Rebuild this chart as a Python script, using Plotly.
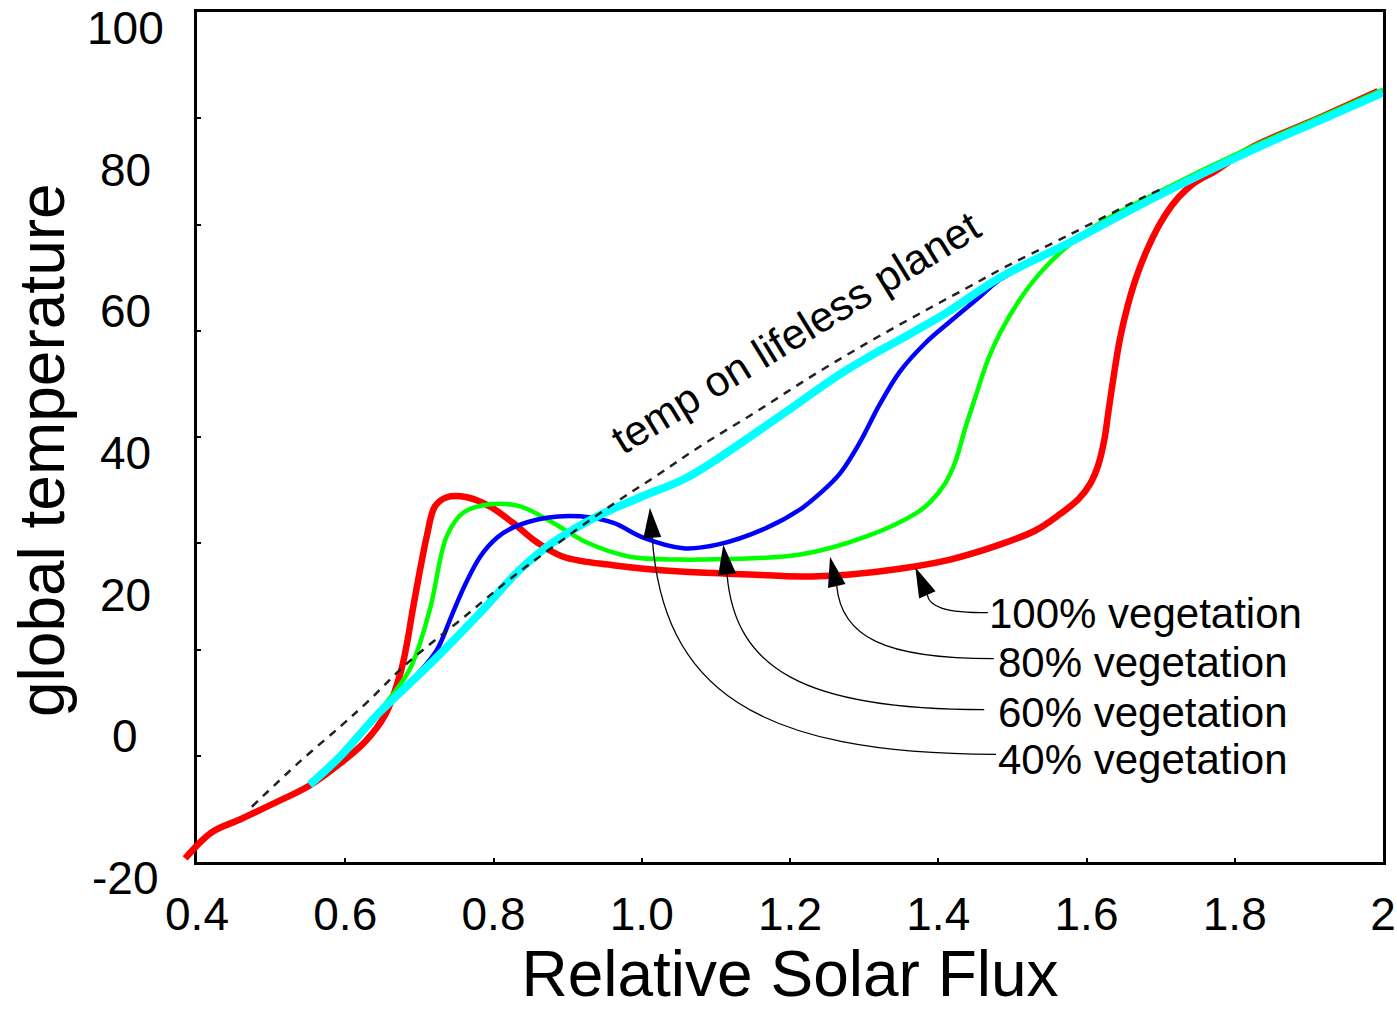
import math
import plotly.graph_objects as go

# ---------------- data ----------------
flux_100 = [0.384, 0.420, 0.458, 0.498, 0.552, 0.593, 0.627, 0.654, 0.674, 0.683, 0.691, 0.701, 0.710,
            0.721, 0.737, 0.764, 0.795, 0.826, 0.859, 0.894, 0.961, 1.052, 1.146, 1.214, 1.281, 1.348,
            1.416, 1.483, 1.531, 1.564, 1.589, 1.605, 1.616, 1.624, 1.630, 1.637, 1.645, 1.655, 1.667,
            1.682, 1.699, 1.719, 1.746, 1.773, 1.821, 1.915, 1.993]
temp_100 = [-19.5, -15.8, -14.0, -12.0, -9.2, -6.1, -3.0, 0.8, 6.5, 10.7, 15.6, 21.3, 26.0,
            30.2, 31.5, 31.5, 30.2, 27.9, 25.1, 23.1, 21.9, 21.0, 20.6, 20.3, 20.6, 21.4,
            22.7, 24.8, 26.8, 29.1, 31.2, 33.4, 36.1, 39.6, 43.9, 48.8, 53.8, 58.3, 62.5,
            66.5, 70.1, 73.2, 75.9, 77.5, 80.8, 85.1, 88.8]

flux_80 = [0.552, 0.593, 0.647, 0.687, 0.714, 0.737, 0.759, 0.795, 0.836, 0.880, 0.926, 0.984, 1.052,
           1.079, 1.214, 1.304, 1.371, 1.389, 1.409, 1.423, 1.436, 1.450, 1.467, 1.483, 1.510, 1.537,
           1.574, 1.618, 1.686, 1.821, 1.915, 2.000]
temp_80 = [-9.1, -5.2, 1.4, 7.2, 15.6, 26.0, 29.3, 30.5, 30.2, 27.9, 25.1, 23.1, 22.7,
           22.7, 23.4, 26.0, 29.3, 30.8, 33.4, 36.5, 41.1, 45.6, 50.9, 54.6, 59.4, 63.1,
           66.9, 70.2, 74.0, 80.85, 85.15, 89.05]

flux_60 = [0.552, 0.593, 0.647, 0.701, 0.724, 0.744, 0.762, 0.782, 0.805, 0.826, 0.872, 0.917, 0.961,
           1.002, 1.056, 1.102, 1.169, 1.214, 1.240, 1.267, 1.294, 1.321, 1.348, 1.382, 1.416, 1.456,
           1.483, 1.578, 1.686, 1.821, 1.915, 2.000]
temp_60 = [-9.1, -5.2, 1.1, 6.9, 10.0, 14.9, 19.2, 23.1, 25.8, 27.2, 28.6, 28.8, 27.9,
           25.8, 24.3, 24.8, 27.2, 29.8, 32.0, 34.8, 39.2, 44.6, 49.2, 53.2, 56.3, 59.8,
           62.2, 67.5, 73.5, 80.4, 84.7, 88.6]

flux_40 = [0.552, 0.593, 0.647, 0.710, 0.782, 0.836, 0.880, 0.940, 0.998, 1.056, 1.096, 1.187, 1.277,
           1.366, 1.412, 1.483, 1.578, 1.686, 1.821, 1.915, 2.000]
temp_40 = [-9.1, -5.1, 1.2, 7.5, 15.2, 21.3, 25.1, 28.8, 31.5, 34.0, 36.5, 43.0, 49.5,
           54.8, 57.6, 62.5, 67.5, 73.5, 80.4, 84.7, 88.6]

flux_lifeless = [0.474, 0.539, 0.593, 0.629, 0.683, 0.764, 0.818, 0.879, 0.961, 1.021, 1.079, 1.155,
                 1.231, 1.308, 1.385, 1.452, 1.483, 1.574, 1.676, 1.699]
temp_lifeless = [-12.2, -5.8, -0.9, 2.5, 8.0, 14.9, 19.6, 24.4, 30.5, 34.6, 38.7, 43.6,
                 48.7, 53.5, 58.0, 61.8, 63.6, 68.4, 73.8, 74.9]

# tick labels
x_tick_vals = [0.4, 0.6, 0.8, 1.0, 1.2, 1.4, 1.6, 1.8, 2.0]
x_tick_text = ["0.4", "0.6", "0.8", "1.0", "1.2", "1.4", "1.6", "1.8", "2"]
y_tick_vals = [-20, 0, 20, 40, 60, 80, 100]
y_tick_text = ["-20", "0", "20", "40", "60", "80", "100"]
y_minor_ticks = [-5, 10, 25, 40, 55, 70, 85]

# arrow annotations: label, label anchor, arrow tip, arrow tail (data units)
arrow_labels = ["100% vegetation", "80% vegetation", "60% vegetation", "40% vegetation"]
label_x = [1.466, 1.478, 1.478, 1.478]
label_y = [15.1, 8.2, 1.1, -5.5]
tip_x = [1.369, 1.254, 1.110, 1.011]
tip_y = [21.6, 23.1, 24.8, 30.0]
tail_x = [1.385, 1.263, 1.115, 1.014]
tail_y = [17.8, 19.0, 20.7, 26.0]
lead_end_x = [1.467, 1.475, 1.462, 1.478]
lead_end_y = [15.2, 8.7, 1.5, -4.8]

lifeless_label = "temp on lifeless planet"
lifeless_label_x, lifeless_label_y = 1.208, 54.8

# ---------------- layout geometry ----------------
FIG_W, FIG_H = 1397, 1010
M_L, M_R, M_T, M_B = 180, 14, 12, 135
PAD_L, PAD_B = 17, 13
X_RANGE = [0.4, 2.0]
Y_RANGE = [-20, 100]
plot_w = FIG_W - M_L - M_R
plot_h = FIG_H - M_T - M_B
sx = (plot_w - PAD_L) / (X_RANGE[1] - X_RANGE[0])
sy = (plot_h - PAD_B) / (Y_RANGE[1] - Y_RANGE[0])
x2_range = [X_RANGE[0] - PAD_L / sx, X_RANGE[1]]
y2_range = [Y_RANGE[0] - PAD_B / sy, Y_RANGE[1]]

FONT = "Liberation Sans, Arial, Helvetica, sans-serif"

fig = go.Figure()
# dummy trace for the framed axes
fig.add_trace(go.Scatter(x=[], y=[], xaxis="x", yaxis="y", showlegend=False, hoverinfo="skip"))

series = [
    ("100% vegetation", flux_100, temp_100, "#ff0000", 6.5),
    ("80% vegetation", flux_80, temp_80, "#00ff00", 4.5),
    ("60% vegetation", flux_60, temp_60, "#0000ff", 4.5),
    ("40% vegetation", flux_40, temp_40, "#00ffff", 8),
]
for name, xs, ys, col, w in series:
    fig.add_trace(go.Scatter(x=xs, y=ys, mode="lines", name=name, xaxis="x2", yaxis="y2",
                             line=dict(color=col, width=w, shape="spline", smoothing=1.0),
                             showlegend=False))
fig.add_trace(go.Scatter(x=flux_lifeless, y=temp_lifeless, mode="lines", name="lifeless planet",
                         xaxis="x2", yaxis="y2",
                         line=dict(color="#222222", width=2.5, dash="8px,7px", shape="spline", smoothing=1.0),
                         showlegend=False))

shapes = []
annotations = []
HEAD_LEN, HEAD_HALF = 30, 9
for i in range(len(arrow_labels)):
    bx, by = tail_x[i], tail_y[i]
    ex, ey = lead_end_x[i], lead_end_y[i]
    dx, dy = ex - bx, ey - by
    c1 = (bx + 0.03 * dx, by + 0.7 * dy)
    c2 = (bx + 0.3 * dx, ey)
    shapes.append(dict(type="path", xref="x2", yref="y2", layer="above",
                       path=f"M {bx},{by} C {c1[0]},{c1[1]} {c2[0]},{c2[1]} {ex},{ey}",
                       line=dict(color="black", width=1.3)))
    # arrow head (filled triangle)
    tx, ty = tip_x[i], tip_y[i]
    px, py = (tx - bx) * sx, (ty - by) * sy
    L = math.hypot(px, py)
    ux, uy = px / L, py / L
    cx, cy = -ux * HEAD_LEN, -uy * HEAD_LEN
    pxp, pyp = -uy * HEAD_HALF, ux * HEAD_HALF
    p1 = (tx + (cx + pxp) / sx, ty + (cy + pyp) / sy)
    p2 = (tx + (cx - pxp) / sx, ty + (cy - pyp) / sy)
    shapes.append(dict(type="path", xref="x2", yref="y2", layer="above",
                       path=f"M {tx},{ty} L {p1[0]},{p1[1]} L {p2[0]},{p2[1]} Z",
                       fillcolor="black", line=dict(color="black", width=0)))
    annotations.append(dict(x=label_x[i], y=label_y[i], xref="x2", yref="y2", text=arrow_labels[i],
                            showarrow=False, xanchor="left", yanchor="middle",
                            font=dict(family=FONT, size=42, color="black")))

annotations.append(dict(x=lifeless_label_x, y=lifeless_label_y, xref="x2", yref="y2", text=lifeless_label,
                        showarrow=False, textangle=-31.5, xanchor="center", yanchor="middle",
                        font=dict(family=FONT, size=42.5, color="black")))
annotations.append(dict(x=(42 - M_L) / plot_w, y=(FIG_H - M_B - 450) / plot_h, xref="paper", yref="paper",
                        text="global temperature", showarrow=False, textangle=-90,
                        xanchor="center", yanchor="middle",
                        font=dict(family=FONT, size=64, color="black")))
# y tick labels (centred in a column left of the frame, set slightly below their ticks as in the original)
for v, t in zip(y_tick_vals, y_tick_text):
    annotations.append(dict(x=(125 - M_L) / plot_w, y=v, xref="paper", yref="y", yshift=-16,
                            text=t, showarrow=False, xanchor="center", yanchor="middle",
                            font=dict(family=FONT, size=46, color="black")))

fig.update_layout(
    width=FIG_W, height=FIG_H,
    margin=dict(l=M_L, r=M_R, t=M_T, b=M_B, pad=0, autoexpand=False),
    paper_bgcolor="white", plot_bgcolor="rgba(0,0,0,0)",
    showlegend=False,
    xaxis=dict(domain=[PAD_L / plot_w, 1], range=X_RANGE, anchor="y", automargin=False,
               showline=True, linecolor="black", linewidth=3, mirror=True,
               showgrid=False, zeroline=False,
               tickmode="array", tickvals=x_tick_vals, ticktext=x_tick_text,
               ticks="inside", ticklen=4, tickwidth=1.5, tickcolor="black",
               tickfont=dict(family=FONT, size=46, color="black"),
               ticklabelstandoff=10,
               title=dict(text="Relative Solar Flux", font=dict(family=FONT, size=64, color="black"),
                          standoff=9)),
    yaxis=dict(domain=[PAD_B / plot_h, 1], range=Y_RANGE, anchor="x", automargin=False,
               showline=True, linecolor="black", linewidth=3, mirror=True,
               showgrid=False, zeroline=False,
               tickmode="array", tickvals=y_tick_vals, ticktext=y_tick_text,
               ticks="", showticklabels=False,
               minor=dict(ticks="inside", tickmode="array", tickvals=y_minor_ticks,
                          ticklen=4, tickwidth=1.5, tickcolor="black")),
    xaxis2=dict(domain=[0, 1], range=x2_range, anchor="y2", visible=False, fixedrange=True,
                automargin=False),
    yaxis2=dict(domain=[0, 1], range=y2_range, anchor="x2", visible=False, fixedrange=True,
                automargin=False),
    shapes=shapes,
    annotations=annotations,
)

fig.write_html("out.html", config={"displayModeBar": False},
               post_script="document.body.style.margin='0px';")
